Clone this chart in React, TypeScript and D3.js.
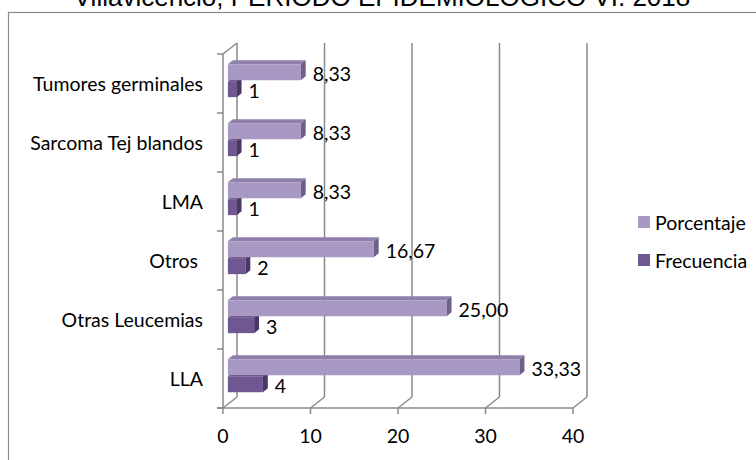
import React from 'react';
import * as d3 from 'd3';

const title = 'Villavicencio, PERIODO EPIDEMIOLOGICO VI. 2018';
const categories = ['LLA', 'Otras Leucemias', 'Otros ', 'LMA', 'Sarcoma Tej blandos', 'Tumores germinales'];
const porcentaje = [33.33, 25.0, 16.67, 8.33, 8.33, 8.33];
const frecuencia = [4, 3, 2, 1, 1, 1];
const seriesNames = ['Porcentaje', 'Frecuencia'];
const xTicks = [0, 10, 20, 30, 40];

const W = 756;
const H = 460;
const FONT = 'Lato, "Noto Sans", sans-serif';
const FS = 19.5;
const GRID = '#8a8a8a';

const colors: Record<string, { front: string; top: string; side: string }> = {
  Porcentaje: { front: '#A799C3', top: '#8E80AA', side: '#6E6089' },
  Frecuencia: { front: '#6F5792', top: '#5E4882', side: '#4A3767' },
};

// depth projection of the 3D wall
const DX = 14;
const DY = -11;
const BAR_D1 = 0.35;
const BAR_D2 = 0.7;

export default function App() {
  const x = d3.scaleLinear().domain([0, 40]).range([223, 573]);
  const y = d3.scaleBand<string>().domain(categories).range([408, 54]);
  const inner = d3.scaleBand<string>().domain(seriesNames).range([14, 47]).paddingInner(0.06);

  const ax = DX * BAR_D1, ay = DY * BAR_D1;
  const bx = DX * BAR_D2, by = DY * BAR_D2;

  const bandEdges = [...categories.map((c) => y(c)! + y.bandwidth()), y(categories[categories.length - 1])!];
  const yTop = 54, yBot = 408;

  const fmtP = (v: number) => v.toFixed(2).replace('.', ',');
  const fmtF = (v: number) => String(v);

  const bars: React.ReactNode[] = [];
  const labels: React.ReactNode[] = [];
  categories.forEach((c, i) => {
    const order = ['Frecuencia', 'Porcentaje'];
    order.forEach((s) => {
      const v = s === 'Porcentaje' ? porcentaje[i] : frecuencia[i];
      const col = colors[s];
      const x0 = x(0);
      const x1 = x(v);
      const t = y(c)! + inner(s)!;
      const b = t + inner.bandwidth();
      const front = `M${x0 + ax},${t + ay}L${x1 + ax},${t + ay}L${x1 + ax},${b + ay}L${x0 + ax},${b + ay}Z`;
      const top = `M${x0 + ax},${t + ay}L${x0 + bx},${t + by}L${x1 + bx},${t + by}L${x1 + ax},${t + ay}Z`;
      const side = `M${x1 + ax},${t + ay}L${x1 + bx},${t + by}L${x1 + bx},${b + by}L${x1 + ax},${b + ay}Z`;
      bars.push(
        <g key={`${c}-${s}`}>
          <path d={top} fill={col.top} />
          <path d={front} fill={col.front} />
          <path d={side} fill={col.side} />
        </g>
      );
      labels.push(
        <text
          key={`l-${c}-${s}`}
          x={x1 + bx + 7}
          y={(t + b) / 2 + ay + 1}
          dominantBaseline="central"
          fontFamily={FONT}
          fontSize={FS}
          fill="#000"
        >
          {s === 'Porcentaje' ? fmtP(v) : fmtF(v)}
        </text>
      );
    });
  });

  return (
    <svg width={W} height={H} style={{ position: 'absolute', left: 0, top: 0, background: '#fff' }}>
      <rect x={0} y={0} width={W} height={H} fill="#fff" />
      <text x={382} y={6} textAnchor="middle" fontFamily='"Liberation Sans", Arial, sans-serif' fontSize={26} fill="#000">
        {title}
      </text>
      <rect x={8.5} y={12.5} width={900} height={600} fill="none" stroke={GRID} strokeWidth={1.2} />

      {/* back wall gridlines */}
      <g stroke={GRID} strokeWidth={1.5} fill="none">
        {xTicks.map((t) => (
          <line key={`g${t}`} x1={x(t) + DX} x2={x(t) + DX} y1={yTop + DY} y2={yBot + DY} />
        ))}
        {xTicks.map((t) => (
          <line key={`f${t}`} x1={x(t)} x2={x(t) + DX} y1={yBot} y2={yBot + DY} />
        ))}
        <line x1={x(0)} x2={x(0) + DX} y1={yTop} y2={yTop + DY} />
        {/* front axes */}
        <line x1={x(0)} x2={x(0)} y1={yTop} y2={yBot} />
        <line x1={x(0) - 6} x2={x(40)} y1={yBot} y2={yBot} />
        {bandEdges.map((e, i) => (
          <line key={`bt${i}`} x1={x(0) - 6} x2={x(0)} y1={e} y2={e} />
        ))}
        {xTicks.map((t) => (
          <line key={`xt${t}`} x1={x(t)} x2={x(t)} y1={yBot} y2={yBot + 6} />
        ))}
      </g>

      {bars}
      {labels}

      {/* x tick labels */}
      {xTicks.map((t) => (
        <text key={`xl${t}`} x={x(t)} y={435} textAnchor="middle" dominantBaseline="central" fontFamily={FONT} fontSize={FS} fill="#000">
          {t}
        </text>
      ))}

      {/* category labels */}
      {categories.map((c) => (
        <text
          key={`cl${c}`}
          x={203}
          y={y(c)! + y.bandwidth() / 2}
          textAnchor="end"
          dominantBaseline="central"
          fontFamily={FONT}
          fontSize={FS}
          fill="#000"
          style={{ whiteSpace: 'pre' }}
        >
          {c}
        </text>
      ))}

      {/* legend */}
      {seriesNames.map((s, i) => {
        const cy = 222 + i * 38;
        return (
          <g key={`lg${s}`}>
            <rect x={638} y={cy - 6} width={12} height={12} fill={colors[s].front} />
            <text x={655} y={cy} dominantBaseline="central" fontFamily={FONT} fontSize={FS} fill="#000">
              {s}
            </text>
          </g>
        );
      })}
    </svg>
  );
}
